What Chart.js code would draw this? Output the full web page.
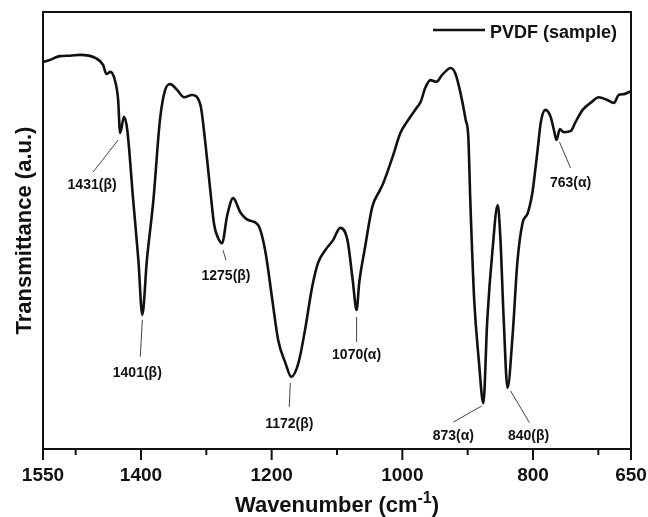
<!DOCTYPE html>
<html>
<head>
<meta charset="utf-8">
<script src="https://cdn.jsdelivr.net/npm/chart.js@4.4.1/dist/chart.umd.min.js"></script>
<style>
  html, body { margin: 0; padding: 0; background: #fff; }
  #wrap { width: 648px; height: 517px; }
</style>
</head>
<body>
<div id="wrap"><canvas id="ftir"></canvas></div>
<script>
// FTIR trace (x in cm-1, y in arbitrary transmittance units 0-100)
const wavenumber = [
  1550, 1542, 1524, 1509, 1493, 1470, 1458, 1453, 1447, 1440,
  1435, 1432, 1426, 1421, 1412, 1404, 1398, 1391, 1381, 1371,
  1363, 1355, 1345, 1334, 1322, 1309, 1302, 1294, 1288, 1282,
  1276, 1268, 1259, 1248, 1236, 1221, 1210, 1199, 1190, 1179,
  1170, 1159, 1149, 1138, 1129, 1118, 1106, 1095, 1084, 1076,
  1070, 1066, 1057, 1046, 1034, 1029, 1015, 1003, 991, 977,
  972, 965, 957, 948, 939, 926, 919, 911, 903, 899,
  896, 890, 883, 876, 870, 862, 854, 850, 845, 839,
  831, 824, 816, 808, 801, 798, 793, 788, 781, 773,
  768, 764, 759, 753, 742, 735, 724, 712, 699, 687,
  676, 669, 661, 650
];
const transmittance = [
  88.6, 88.9, 89.9, 90.0, 90.2, 89.5, 87.9, 85.8, 86.3, 84.4,
  79.9, 72.3, 76.0, 73.0, 57.0, 43.2, 30.7, 43.2, 57.0, 75.3,
  82.2, 83.5, 82.2, 80.5, 81.0, 78.7, 70.7, 59.3, 51.3, 48.3,
  47.1, 53.5, 57.4, 54.2, 52.4, 51.3, 45.5, 34.1, 24.9, 19.7,
  16.5, 19.7, 27.2, 37.1, 42.6, 45.5, 47.8, 50.6, 47.8, 38.7,
  31.8, 38.0, 46.2, 55.4, 59.3, 60.9, 66.8, 72.3, 75.3, 78.3,
  79.4, 82.6, 84.4, 84.0, 85.6, 87.2, 86.0, 81.5, 75.3, 71.4,
  57.0, 34.1, 20.4, 10.5, 29.5, 45.5, 55.8, 48.5, 30.2, 14.0,
  26.5, 42.6, 51.7, 54.0, 58.6, 62.0, 68.4, 74.8, 77.6, 76.0,
  73.0, 70.7, 73.2, 72.5, 72.8, 74.8, 77.6, 79.2, 80.5, 79.9,
  79.2, 81.0, 81.2, 81.9
];

const tickValues = [1550, 1500, 1400, 1300, 1200, 1100, 1000, 900, 800, 700, 650];
const labelledTicks = [1550, 1400, 1200, 1000, 800, 650];

const peakWavenumber = [1431, 1401, 1275, 1172, 1070, 873, 840, 763];
const peakLabel = ['1431(β)', '1401(β)', '1275(β)', '1172(β)', '1070(α)', '873(α)', '840(β)', '763(α)'];
// pixel offsets from the band minimum: [line start dx, dy, line end dx, dy, text dx, dy]
const peakLayout = [
  [-2, 7, -27, 39, -28, 51],
  [0, 5, -2, 42, -5, 57],
  [1, 7, 4, 17, 4, 32],
  [-1, 6, -2, 30, -2, 46],
  [0, 7, 0, 32, 0, 44],
  [-2, 3, -30, 19, -30, 32],
  [3, 3, 22, 35, 21, 47],
  [3, 2, 14, 28, 14, 42]
];

const seriesName = 'PVDF (sample)';
const FONT = "'Liberation Sans', Arial, sans-serif";
const INK = '#111';

function findBand(wn) {
  let best = -1;
  wavenumber.forEach((w, i) => {
    if (Math.abs(w - wn) <= 10 && (best < 0 || transmittance[i] < transmittance[best])) best = i;
  });
  return best;
}

const frame = {
  id: 'frame',
  afterDraw(chart) {
    const { ctx, chartArea: a, scales: { x, y } } = chart;
    ctx.save();
    ctx.strokeStyle = INK;
    ctx.lineWidth = 2;
    ctx.strokeRect(a.left, a.top, a.right - a.left, a.bottom - a.top);

    // bottom ticks, outward
    tickValues.forEach(v => {
      const px = x.getPixelForValue(v);
      const len = labelledTicks.includes(v) ? 11 : 6;
      ctx.beginPath();
      ctx.moveTo(px, a.bottom);
      ctx.lineTo(px, a.bottom + len);
      ctx.stroke();
    });

    // band labels
    ctx.lineWidth = 1;
    ctx.strokeStyle = '#444';
    ctx.fillStyle = INK;
    ctx.font = `bold 14px ${FONT}`;
    ctx.textAlign = 'center';
    ctx.textBaseline = 'alphabetic';
    peakWavenumber.forEach((wn, k) => {
      const i = findBand(wn);
      const ax = x.getPixelForValue(wavenumber[i]);
      const ay = y.getPixelForValue(transmittance[i]);
      const L = peakLayout[k];
      ctx.beginPath();
      ctx.moveTo(ax + L[0], ay + L[1]);
      ctx.lineTo(ax + L[2], ay + L[3]);
      ctx.stroke();
      ctx.fillText(peakLabel[k], ax + L[4], ay + L[5] + 5);
    });

    // legend
    ctx.lineWidth = 2.6;
    ctx.strokeStyle = INK;
    ctx.beginPath();
    ctx.moveTo(433, 30);
    ctx.lineTo(485, 30);
    ctx.stroke();
    ctx.font = `bold 18px ${FONT}`;
    ctx.textAlign = 'left';
    ctx.fillText(seriesName, 490, 37.5);

    // x title with superscript
    const main = `bold 22px ${FONT}`, sup = `bold 16px ${FONT}`;
    const p1 = 'Wavenumber (cm', p2 = '-1', p3 = ')';
    ctx.font = main; const w1 = ctx.measureText(p1).width, w3 = ctx.measureText(p3).width;
    ctx.font = sup; const w2 = ctx.measureText(p2).width;
    let tx = (a.left + a.right) / 2 - (w1 + w2 + w3) / 2;
    const by = 512;
    ctx.font = main; ctx.fillText(p1, tx, by); tx += w1;
    ctx.font = sup; ctx.fillText(p2, tx, by - 9); tx += w2;
    ctx.font = main; ctx.fillText(p3, tx, by);

    // y title
    ctx.translate(31, (a.top + a.bottom) / 2);
    ctx.rotate(-Math.PI / 2);
    ctx.textAlign = 'center';
    ctx.font = main;
    ctx.fillText('Transmittance (a.u.)', 0, 0);
    ctx.restore();
  }
};

new Chart(document.getElementById('ftir'), {
  type: 'line',
  data: {
    datasets: [{
      label: seriesName,
      data: wavenumber.map((w, i) => ({ x: w, y: transmittance[i] })),
      borderColor: INK,
      borderWidth: 2.6,
      pointRadius: 0,
      fill: false,
      cubicInterpolationMode: 'monotone'
    }]
  },
  options: {
    responsive: true,
    maintainAspectRatio: false,
    animation: false,
    layout: { padding: { left: 43, right: 17, top: 12, bottom: 0 } },
    scales: {
      x: {
        type: 'linear',
        reverse: true,
        min: 650,
        max: 1550,
        afterBuildTicks: (s) => { s.ticks = tickValues.map(v => ({ value: v })); },
        afterFit: (s) => { s.height = 68; s.paddingLeft = 0; s.paddingRight = 0; },
        grid: { display: false, drawTicks: false },
        border: { display: false },
        ticks: {
          autoSkip: false,
          maxRotation: 0,
          padding: 15,
          color: INK,
          font: { family: FONT, size: 19, weight: 'bold' },
          callback: (v) => labelledTicks.includes(v) ? String(v) : ''
        }
      },
      y: { display: false, min: 0, max: 100 }
    },
    plugins: { legend: { display: false }, tooltip: { enabled: false } }
  },
  plugins: [frame]
});
</script>
</body>
</html>
